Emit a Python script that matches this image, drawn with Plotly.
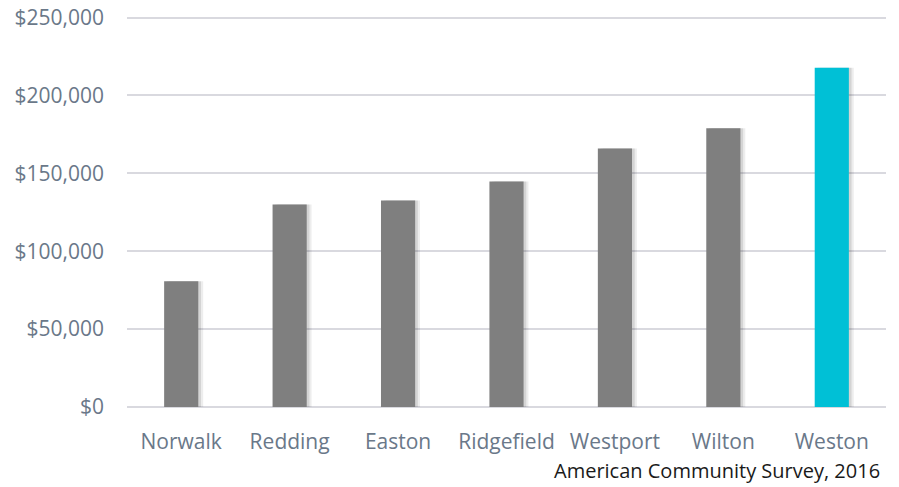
import plotly.graph_objects as go

towns = ["Norwalk", "Redding", "Easton", "Ridgefield", "Westport", "Wilton", "Weston"]
income = [80700, 130000, 132500, 144800, 165900, 179000, 217700]
colors = ["#7f7f7f"] * 6 + ["#00c0d6"]
y_ticks = [0, 50000, 100000, 150000, 200000, 250000]
y_tick_text = ["$" + f"{v:,}" for v in y_ticks]
source = "American Community Survey, 2016"

FONT = "Open Sans"
BW = 0.315
LABEL = "#6a7889"

fig = go.Figure()
# soft drop shadow
fig.add_trace(go.Bar(x=towns, y=income, width=BW, offset=-BW / 2 + 0.045,
                     marker=dict(color="rgba(0,0,0,0.07)", line_width=0),
                     hoverinfo="skip", showlegend=False))
fig.add_trace(go.Bar(x=towns, y=income, width=BW, offset=-BW / 2 + 0.025,
                     marker=dict(color="rgba(0,0,0,0.10)", line_width=0),
                     hoverinfo="skip", showlegend=False))
fig.add_trace(go.Bar(x=towns, y=income, width=BW, offset=-BW / 2,
                     marker=dict(color=colors, line_width=0), showlegend=False))

fig.update_layout(
    width=899, height=487,
    margin=dict(l=127, r=13, t=16, b=79.5),
    paper_bgcolor="white", plot_bgcolor="white",
    barmode="overlay",
    font=dict(family=FONT, size=21, color=LABEL),
    xaxis=dict(showgrid=False, showline=False, zeroline=False, ticks="",
               automargin=False,
               ticklabelstandoff=20, tickfont=dict(size=21, color=LABEL)),
    yaxis=dict(range=[0, 251000], tickvals=y_ticks, ticktext=y_tick_text,
               automargin=False,
               showgrid=True, gridcolor="#d9d9df", gridwidth=2,
               zeroline=True, zerolinecolor="#d9d9df", zerolinewidth=2,
               showline=False, ticks="", ticklabelstandoff=22,
               tickfont=dict(size=21, color=LABEL)),
    annotations=[dict(text=source, xref="paper", yref="paper", x=0.995, y=-0.163,
                      xanchor="right", yanchor="middle", showarrow=False,
                      font=dict(family=FONT, size=20, color="#1a1a1a"))],
)

fig.write_html("out.html", config={"displayModeBar": False},
               post_script="document.body.style.margin='0';")
